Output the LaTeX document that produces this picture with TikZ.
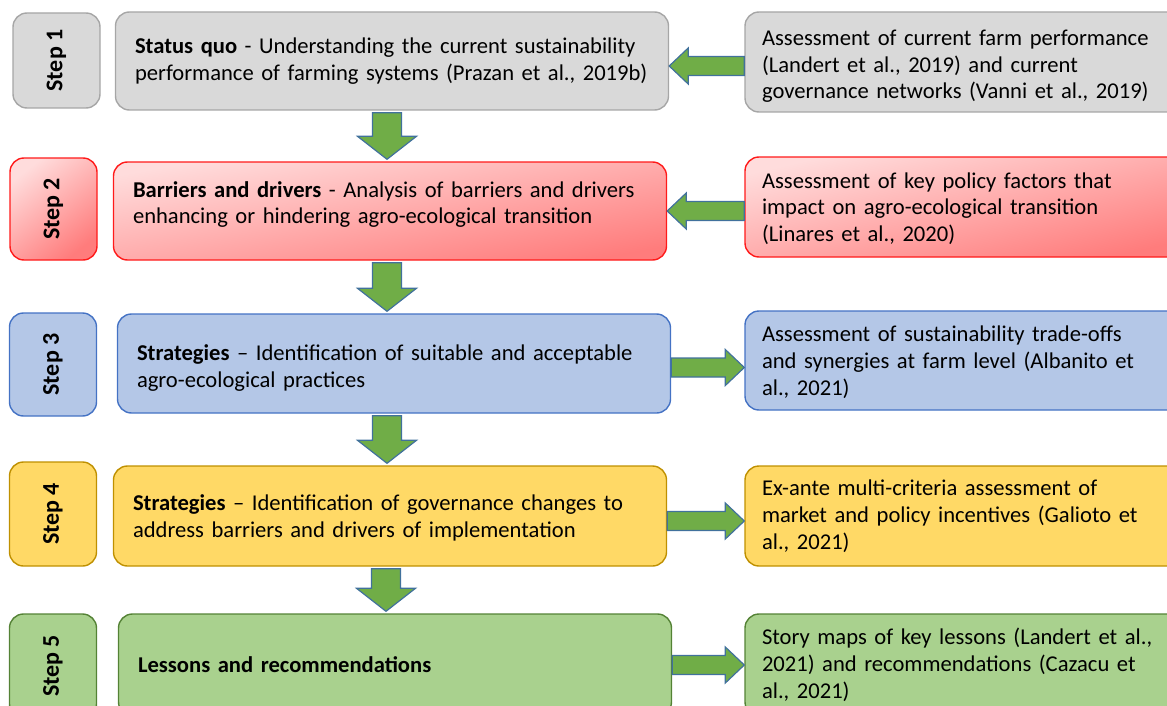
\documentclass[tikz,border=0pt]{standalone}
\usepackage{fontspec}
\setmainfont{Carlito}
\usetikzlibrary{calc}

\definecolor{grayfill}{HTML}{D9D9D9}
\definecolor{grayline}{HTML}{A6A6A6}
\definecolor{redlight}{HTML}{FFDCDC}
\definecolor{reddark}{HTML}{FF7C7C}
\definecolor{redline}{HTML}{FF1A1A}
\definecolor{bluefill}{HTML}{B4C7E7}
\definecolor{blueline}{HTML}{4472C4}
\definecolor{yellowfill}{HTML}{FFD966}
\definecolor{yellowline}{HTML}{BF9000}
\definecolor{greenfill}{HTML}{A9D18E}
\definecolor{greenline}{HTML}{548235}
\definecolor{arrowgreen}{HTML}{70AD47}
\definecolor{arrowline}{HTML}{41719C}

\begin{document}
\begin{tikzpicture}[x=0.5pt, y=-0.5pt,
    box/.style={rounded corners=7pt, line width=0.7pt,
        font=\fontsize{11.3}{13.4}\selectfont},
    stepbox/.style={box, minimum width=43.5pt, font=\fontsize{12}{14}\selectfont\bfseries},
    mainbox/.style={box, minimum width=276.5pt, text width=257pt, align=left},
    sidebox/.style={box, minimum width=220pt, text width=203pt, align=left},
    grayish/.style={fill=grayfill, draw=grayline},
    reddish/.style={draw=redline, shading=axis, top color=redlight,
        bottom color=reddark, shading angle=#1},
    reddish/.default=10,
    blueish/.style={fill=bluefill, draw=blueline},
    yellowish/.style={fill=yellowfill, draw=yellowline},
    greenish/.style={fill=greenfill, draw=greenline},
    flow/.style n args={3}{draw=arrowline, fill=arrowgreen, line width=0.6pt,
        to path={let \p1=($(\tikztotarget)!#3!(\tikztostart)$) in
            ($(\tikztostart)!#1!90:(\tikztotarget)$)
            -- ($(\p1)!#1!90:(\tikztotarget)$)
            -- ($(\p1)!#2!90:(\tikztotarget)$)
            -- (\tikztotarget)
            -- ($(\p1)!#2!-90:(\tikztotarget)$)
            -- ($(\p1)!#1!-90:(\tikztotarget)$)
            -- ($(\tikztostart)!#1!-90:(\tikztotarget)$) -- cycle}},
    down/.style={flow={7.25pt}{14.75pt}{11.5pt}},
    side/.style={flow={4.75pt}{9pt}{9.5pt}}]

\useasboundingbox (0,0) rectangle (1167,706);
\clip (0,0) rectangle (1167,706);

\node[stepbox, grayish, minimum height=47.5pt] (s1) at (56.5,60.5) {\rotatebox{90}{Step 1}};
\node[stepbox, reddish=38, minimum height=51pt] (s2) at (53.5,209) {\rotatebox{90}{Step 2}};
\node[stepbox, blueish, minimum height=51.5pt] (s3) at (53,364.5) {\rotatebox{90}{Step 3}};
\node[stepbox, yellowish, minimum height=52pt] (s4) at (53,514) {\rotatebox{90}{Step 4}};
\node[stepbox, greenish, minimum height=52pt] (s5) at (53,666) {\rotatebox{90}{Step 5}};

\node[mainbox, grayish, minimum height=49pt] (m1) at (392,61)
    {\textbf{Status quo} - Understanding the current sustainability\\
     performance of farming systems (Prazan et al., 2019b)};
\node[mainbox, reddish, minimum height=49pt] (m2) at (390,211)
    {\textbf{Barriers and drivers} - Analysis of barriers and drivers\\
     enhancing or hindering agro-ecological transition\rule[-8.5pt]{0pt}{8.5pt}};
\node[mainbox, blueish, minimum height=49.5pt] (m3) at (394,363.5)
    {\rule{0pt}{12.5pt}\textbf{Strategies} -- Identification of suitable and acceptable\\
     agro-ecological practices};
\node[mainbox, yellowish, minimum height=50pt] (m4) at (390,516)
    {\rule{0pt}{10pt}\textbf{Strategies} -- Identification of governance changes to\\
     address barriers and drivers of implementation};
\node[mainbox, greenish, minimum height=51pt] (m5) at (395,665)
    {\textbf{Lessons and recommendations}};

\node[sidebox, grayish, minimum height=50pt] (r1) at (965,62)
    {\rule{0pt}{12pt}Assessment of current farm performance\\
     (Landert et al., 2019) and current\\
     governance networks (Vanni et al., 2019)};
\node[sidebox, reddish=13, minimum height=50pt] (r2) at (965,207)
    {\rule{0pt}{9.5pt}Assessment of key policy factors that\\
     impact on agro-ecological transition\\
     (Linares et al., 2020)};
\node[sidebox, blueish, minimum height=49.5pt] (r3) at (965,360.5)
    {\rule{0pt}{9.5pt}Assessment of sustainability trade-offs\\
     and synergies at farm level (Albanito et\\
     al., 2021)};
\node[sidebox, yellowish, minimum height=50pt] (r4) at (965,516)
    {Ex-ante multi-criteria assessment of\\
     market and policy incentives (Galioto et\\
     al., 2021)};
\node[sidebox, greenish, minimum height=51pt] (r5) at (965,665)
    {Story maps of key lessons (Landert et al.,\\
     2021) and recommendations (Cazacu et\\
     al., 2021)};

\draw[down] ([xshift=-2.5pt,yshift=-1pt]m1.south) to ([xshift=-2.5pt,yshift=1pt]m1.south |- m2.north);
\draw[down] ([xshift=-1.5pt,yshift=-1pt]m2.south) to ([xshift=-1.5pt,yshift=1pt]m2.south |- m3.north);
\draw[down] ([xshift=-3.5pt,yshift=-1pt]m3.south) to ([xshift=-3.5pt,yshift=1pt]m3.south |- m4.north);
\draw[down] ([xshift=-2pt,yshift=-1pt]m4.south) to ([xshift=-2pt,yshift=1pt]m4.south |- m5.north);

\draw[side] ([yshift=-2pt]r1.west) to ([yshift=-2pt]r1.west -| m1.east);
\draw[side] ([yshift=-2pt]r2.west) to ([yshift=-2pt]r2.west -| m2.east);
\draw[side] ([yshift=-2pt]m3.east) to ([yshift=-2pt]m3.east -| r3.west);
\draw[side] ([yshift=-2.5pt]m4.east) to ([yshift=-2.5pt]m4.east -| r4.west);
\draw[side] (m5.east) to (m5.east -| r5.west);
\end{tikzpicture}
\end{document}
